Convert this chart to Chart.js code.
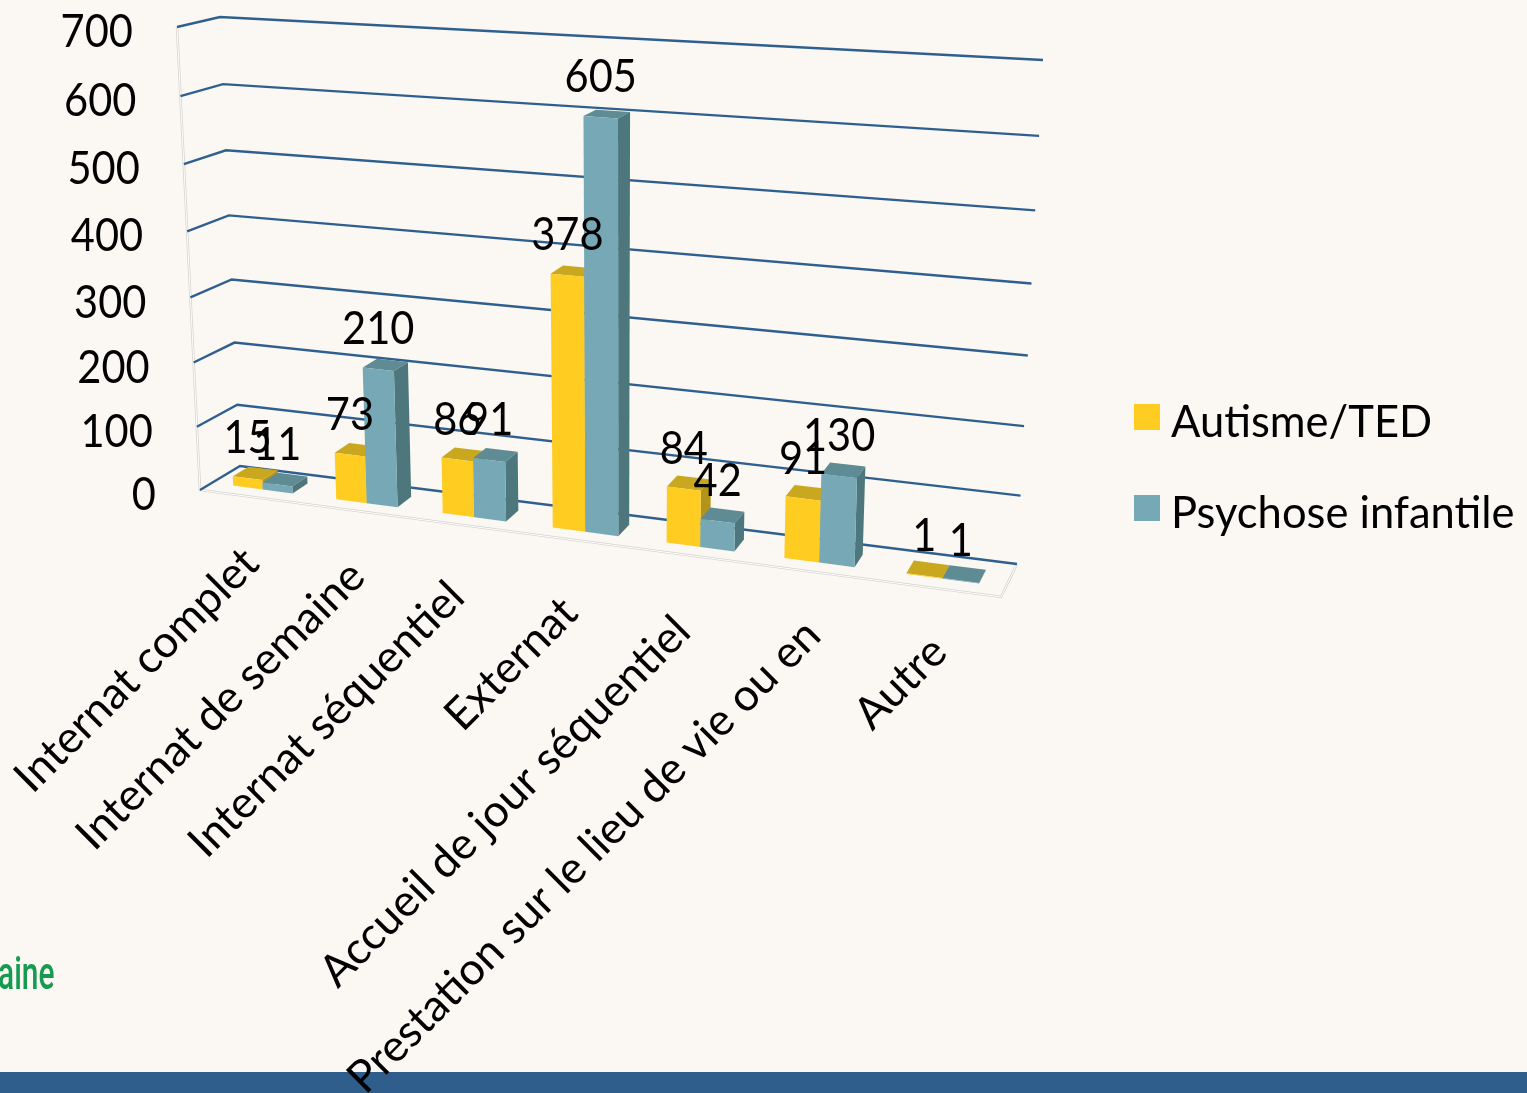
<!DOCTYPE html>
<html>
<head>
<meta charset="utf-8">
<title>Autisme/TED - Psychose infantile</title>
<script src="https://cdn.jsdelivr.net/npm/chart.js@4/dist/chart.umd.min.js"></script>
<style>
html, body { margin: 0; padding: 0; background: #fbf8f3; overflow: hidden; }
canvas { display: block; }
</style>
</head>
<body>
<canvas id="chart" width="1527" height="1093"></canvas>
<script>
const categories = ["Internat complet", "Internat de semaine", "Internat séquentiel", "Externat",
    "Accueil de jour séquentiel", "Prestation sur le lieu de vie ou en", "Autre"];
const autisme = [15, 73, 86, 378, 84, 91, 1];
const psychose = [11, 210, 91, 605, 42, 130, 1];
const seriesNames = ["Autisme/TED", "Psychose infantile"];
const yMax = 700;
const yStep = 100;

const frontColors = ["#ffcc22", "#76a9b5"];
const topColors = ["#c9a820", "#5e8b94"];
const sideColors = ["#b2941a", "#4e767d"];
const gridColor = "#2f5f8f";
const textFont = "Lato";

// the view: where the corners of the plot box land on screen
const backWall = { bl: [240, 466], br: [1017, 564], tr: [1043, 60], tl: [220, 17] };
const frontWall = { bl: [200, 490], br: [1001, 597], tr: [1023, 79], tl: [177, 27] };
const barDepth = [0.3, 0.7];
// category labels do not sit quite evenly along the front edge
const labelShift = [[-5, 3], [-4, 2], [-13, 8], [-12, 9], [-15, 12], [-5, 0], [-3, 0]];

function homography(q) {
    const dx1 = q.br[0] - q.tr[0], dx2 = q.tl[0] - q.tr[0], sx = q.bl[0] - q.br[0] + q.tr[0] - q.tl[0];
    const dy1 = q.br[1] - q.tr[1], dy2 = q.tl[1] - q.tr[1], sy = q.bl[1] - q.br[1] + q.tr[1] - q.tl[1];
    const den = dx1 * dy2 - dx2 * dy1;
    const g = (sx * dy2 - dx2 * sy) / den;
    const h = (dx1 * sy - sx * dy1) / den;
    return {
        a: q.br[0] - q.bl[0] + g * q.br[0], b: q.tl[0] - q.bl[0] + h * q.tl[0], c: q.bl[0],
        d: q.br[1] - q.bl[1] + g * q.br[1], e: q.tl[1] - q.bl[1] + h * q.tl[1], f: q.bl[1],
        g: g, h: h
    };
}
const backH = homography(backWall);
const frontH = homography(frontWall);

function applyH(m, u, v) {
    const n = m.g * u + m.h * v + 1;
    return [(m.a * u + m.b * v + m.c) / n, (m.d * u + m.e * v + m.f) / n];
}

// chart pixel (px, py) at depth w (0 front, 1 back) -> screen
function project(chart, px, py, w) {
    const area = chart.chartArea;
    const u = (px - area.left) / (area.right - area.left);
    const v = (area.bottom - py) / (area.bottom - area.top);
    const f = applyH(frontH, u, v), b = applyH(backH, u, v);
    return [f[0] + (b[0] - f[0]) * w, f[1] + (b[1] - f[1]) * w];
}

function poly(ctx, pts, color) {
    ctx.beginPath();
    pts.forEach(function (p, i) { if (i == 0) ctx.moveTo(p[0], p[1]); else ctx.lineTo(p[0], p[1]); });
    ctx.closePath();
    ctx.fillStyle = color;
    ctx.fill();
}

function path(ctx, pts, color, width) {
    ctx.beginPath();
    pts.forEach(function (p, i) { if (i == 0) ctx.moveTo(p[0], p[1]); else ctx.lineTo(p[0], p[1]); });
    ctx.strokeStyle = color;
    ctx.lineWidth = width;
    ctx.stroke();
}

// numbers are narrower and taller than the font's own digits
function number(ctx, text, x, y, align) {
    ctx.save();
    ctx.translate(x, y);
    ctx.scale(0.885, 1);
    ctx.fillStyle = "#000";
    ctx.font = "47px " + textFont;
    ctx.textAlign = align;
    ctx.textBaseline = "middle";
    ctx.fillText(text, 0, 0);
    ctx.restore();
}

const perspectivePlugin = {
    id: "perspective",
    beforeDraw: function (chart) {
        const ctx = chart.ctx;
        ctx.save();
        ctx.fillStyle = "#fbf8f3";
        ctx.fillRect(0, 0, chart.width, chart.height);
        // slide footer
        ctx.fillStyle = "#2f5d8c";
        ctx.fillRect(0, 1072, chart.width, chart.height - 1072);
        ctx.save();
        ctx.translate(0, 989);
        ctx.scale(0.65, 1);
        ctx.fillStyle = "#169a50";
        ctx.font = "500 46px Roboto";
        ctx.textAlign = "left";
        ctx.fillText("aine", -3, 0);
        ctx.restore();

        const xs = chart.scales.x, ys = chart.scales.y;
        const area = chart.chartArea;
        // box edges
        const edgeL = project(chart, area.left, area.bottom, 0), edgeT = project(chart, area.left, area.top, 0);
        const edgeR = project(chart, area.right, area.bottom, 0), edgeB = project(chart, area.right, area.bottom, 1);
        path(ctx, [edgeT, edgeL, edgeR, edgeB], "#d4d2ce", 2.5);
        path(ctx, [edgeT, edgeL, edgeR, edgeB], "#ffffff", 1);

        // grid lines, side wall then back wall
        ys.ticks.forEach(function (t) {
            const py = ys.getPixelForValue(t.value);
            path(ctx, [project(chart, area.left, py, 0), project(chart, area.left, py, 1), project(chart, area.right, py, 1)], gridColor, 2.4);
        });

        // y tick labels follow the front edge
        ys.ticks.forEach(function (t) {
            const p = project(chart, area.left, ys.getPixelForValue(t.value), 0);
            number(ctx, t.label, p[0] - 44, p[1] + 5, "right");
        });

        // rotated category labels
        ctx.fillStyle = "#000";
        ctx.font = "44.5px " + textFont;
        xs.getLabels().forEach(function (label, i) {
            const p = project(chart, xs.getPixelForTick(i), area.bottom, 0);
            ctx.save();
            ctx.translate(p[0] + 5 + labelShift[i][0], p[1] + 56 + labelShift[i][1]);
            ctx.rotate(-Math.PI / 4);
            ctx.textAlign = "right";
            ctx.textBaseline = "middle";
            ctx.fillText(label, 0, 0);
            ctx.restore();
        });

        // legend
        chart.data.datasets.forEach(function (ds, i) {
            const y = 404 + i * 91;
            ctx.fillStyle = ds.backgroundColor;
            ctx.fillRect(1134, y, 26, 26);
            ctx.fillStyle = "#000";
            ctx.font = "43.5px " + textFont;
            ctx.textAlign = "left";
            ctx.textBaseline = "middle";
            ctx.fillText(ds.label, 1171, y + 19);
        });
        ctx.restore();
    },
    // the bar elements are placed by the scales, only their painting goes through the view
    beforeDatasetsDraw: function (chart) {
        const ctx = chart.ctx;
        ctx.save();
        const w0 = barDepth[0], w1 = barDepth[1];
        const labels = [];
        categories.forEach(function (c, i) {
            chart.data.datasets.forEach(function (ds, s) {
                const bar = chart.getDatasetMeta(s).data[i];
                const l = bar.x - bar.width / 2, r = bar.x + bar.width / 2;
                const fbl = project(chart, l, bar.base, w0), fbr = project(chart, r, bar.base, w0);
                const ftl = project(chart, l, bar.y, w0), ftr = project(chart, r, bar.y, w0);
                const bbr = project(chart, r, bar.base, w1), btr = project(chart, r, bar.y, w1), btl = project(chart, l, bar.y, w1);
                poly(ctx, [ftl, ftr, btr, btl], topColors[s]);
                poly(ctx, [fbr, bbr, btr, ftr], sideColors[s]);
                poly(ctx, [fbl, fbr, ftr, ftl], frontColors[s]);
                labels.push({ text: String(ds.data[i]), p: project(chart, bar.x, bar.y, w0) });
            });
        });
        labels.forEach(function (o) { number(ctx, o.text, o.p[0], o.p[1] - 40, "center"); });
        ctx.restore();
        return false;
    }
};

new Chart(document.getElementById("chart"), {
    type: "bar",
    data: {
        labels: categories,
        datasets: [
            { label: seriesNames[0], data: autisme, backgroundColor: frontColors[0] },
            { label: seriesNames[1], data: psychose, backgroundColor: frontColors[1] }
        ]
    },
    plugins: [perspectivePlugin],
    options: {
        responsive: false,
        animation: false,
        categoryPercentage: 0.58,
        barPercentage: 1,
        layout: { padding: 0 },
        plugins: { legend: { display: false }, tooltip: { enabled: false } },
        scales: {
            x: { display: false },
            y: { display: false, min: 0, max: yMax, ticks: { stepSize: yStep } }
        }
    }
});
</script>
</body>
</html>
